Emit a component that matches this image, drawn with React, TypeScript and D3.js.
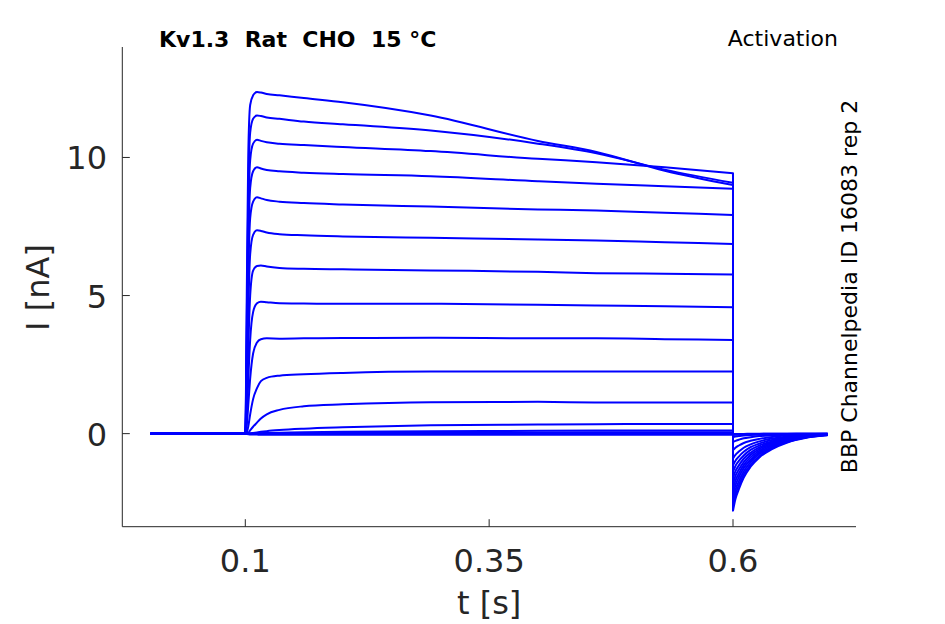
import { useEffect, useRef } from 'react';
import * as d3 from 'd3';

// time samples (s)
const holdT = [0.0027, 0.1];
const pulseT = [0.1, 0.1015, 0.103, 0.105, 0.108, 0.112, 0.116, 0.122, 0.135, 0.16, 0.2, 0.29, 0.4, 0.46, 0.53, 0.6];
const tailT = [0.6, 0.6025, 0.606, 0.611, 0.618, 0.627, 0.64, 0.655, 0.675, 0.697];

// current during the step (nA), one row per sweep
const pulseI = [
  [0, 5.0, 10.0, 11.9, 12.25, 12.37, 12.35, 12.3, 12.25, 12.15, 12.0, 11.52, 10.6, 10.2, 9.52, 9.0],
  [0, 4.0, 8.5, 10.9, 11.4, 11.52, 11.5, 11.45, 11.4, 11.3, 11.2, 10.98, 10.5, 10.15, 9.56, 9.08],
  [0, 3.2, 7.5, 9.9, 10.5, 10.64, 10.6, 10.55, 10.5, 10.45, 10.38, 10.23, 9.95, 9.83, 9.65, 9.43],
  [0, 2.6, 6.5, 8.9, 9.5, 9.65, 9.6, 9.55, 9.5, 9.45, 9.4, 9.32, 9.14, 9.05, 8.96, 8.87],
  [0, 2.0, 5.5, 7.8, 8.4, 8.56, 8.52, 8.46, 8.4, 8.35, 8.3, 8.22, 8.12, 8.08, 8.0, 7.92],
  [0, 1.5, 4.3, 6.5, 7.2, 7.36, 7.34, 7.28, 7.22, 7.18, 7.14, 7.09, 7.03, 6.99, 6.93, 6.87],
  [0, 1.0, 3.0, 5.0, 5.9, 6.07, 6.09, 6.05, 6.0, 5.97, 5.95, 5.91, 5.86, 5.81, 5.79, 5.76],
  [0, 0.6, 1.9, 3.4, 4.4, 4.72, 4.78, 4.76, 4.72, 4.71, 4.7, 4.7, 4.67, 4.64, 4.61, 4.58],
  [0, 0.3, 1.0, 2.0, 2.9, 3.3, 3.42, 3.45, 3.44, 3.45, 3.46, 3.47, 3.45, 3.45, 3.42, 3.39],
  [0, 0.05, 0.25, 0.7, 1.25, 1.65, 1.9, 2.02, 2.1, 2.15, 2.2, 2.25, 2.25, 2.25, 2.25, 2.25],
  [0, 0.01, 0.03, 0.12, 0.25, 0.4, 0.55, 0.7, 0.86, 0.99, 1.06, 1.14, 1.15, 1.13, 1.13, 1.13],
  [0, 0, 0.005, 0.01, 0.025, 0.045, 0.065, 0.09, 0.13, 0.18, 0.23, 0.3, 0.33, 0.34, 0.35, 0.35],
  [0, 0, 0, 0, 0.005, 0.01, 0.015, 0.02, 0.03, 0.05, 0.07, 0.09, 0.1, 0.11, 0.11, 0.11],
  [0, 0, 0, 0, 0, 0.005, 0.01, 0.01, 0.015, 0.02, 0.03, 0.04, 0.045, 0.05, 0.05, 0.05],
  [0, 0, 0, 0, 0, 0, 0, 0, 0, 0, 0, 0, 0, 0, 0, 0],
  [0, -0.01, -0.02, -0.03, -0.03, -0.035, -0.04, -0.04, -0.04, -0.04, -0.04, -0.04, -0.04, -0.04, -0.04, -0.04],
];

// tail current after the step (nA)
const tailI = [
  [-2.79, -2.37, -2.01, -1.59, -1.2, -0.86, -0.56, -0.33, -0.15, -0.06],
  [-2.6, -2.21, -1.87, -1.48, -1.12, -0.81, -0.52, -0.31, -0.14, -0.05],
  [-2.4, -2.04, -1.73, -1.37, -1.03, -0.74, -0.48, -0.29, -0.13, -0.05],
  [-2.2, -1.87, -1.58, -1.25, -0.95, -0.68, -0.44, -0.26, -0.12, -0.04],
  [-2.0, -1.7, -1.44, -1.14, -0.86, -0.62, -0.4, -0.24, -0.11, -0.04],
  [-1.8, -1.53, -1.3, -1.03, -0.77, -0.56, -0.36, -0.22, -0.1, -0.04],
  [-1.6, -1.36, -1.15, -0.91, -0.69, -0.5, -0.32, -0.19, -0.09, -0.03],
  [-1.38, -1.17, -0.99, -0.79, -0.59, -0.43, -0.28, -0.17, -0.08, -0.03],
  [-1.15, -0.98, -0.83, -0.66, -0.49, -0.36, -0.23, -0.14, -0.06, -0.02],
  [-0.9, -0.77, -0.65, -0.51, -0.39, -0.28, -0.18, -0.11, -0.05, -0.02],
  [-0.6, -0.51, -0.43, -0.34, -0.26, -0.19, -0.12, -0.07, -0.03, -0.01],
  [-0.3, -0.26, -0.22, -0.17, -0.13, -0.09, -0.06, -0.04, -0.02, -0.01],
  [-0.12, -0.1, -0.09, -0.07, -0.05, -0.04, -0.02, -0.01, -0.01, 0],
  [-0.05, -0.04, -0.04, -0.03, -0.02, -0.02, -0.01, -0.01, 0, 0],
  [-0.02, -0.02, -0.01, -0.01, -0.01, -0.01, 0, 0, 0, 0],
  [-0.01, -0.01, -0.01, -0.01, 0, 0, 0, 0, 0, 0],
];

const xTicks = [0.1, 0.35, 0.6];
const yTicks = [0, 5, 10];

const font = '"DejaVu Sans", sans-serif';
const axisColor = '#262626';

export default function App() {
  const svgRef = useRef<SVGSVGElement>(null);

  useEffect(() => {
    if (!svgRef.current) return;
    const svg = d3.select(svgRef.current);
    svg.selectAll('*').remove();

    const left = 122.3, right = 856, top = 47, bottom = 526.7;

    const x = d3.scaleLinear().domain([-0.0261, 0.7261]).range([left, right]);
    const y = d3.scaleLinear().domain([-3.37, 14.0]).range([bottom, top]);

    const line = d3.line<[number, number]>()
      .x(d => x(d[0]))
      .y(d => y(d[1]))
      .curve(d3.curveMonotoneX);

    // sweeps
    const g = svg.append('g');
    pulseI.forEach((row, i) => {
      const pre: [number, number][] = holdT.map(t => [t, 0]);
      const step: [number, number][] = pulseT.slice(1).map((t, j) => [t, row[j + 1]]);
      const tail: [number, number][] = tailT.map((t, j) => [t, tailI[i][j]]);
      const d1 = line([...pre, ...step]) || '';
      const d2 = (line(tail) || '').replace(/^M/, 'L');
      g.append('path')
        .attr('d', d1 + d2)
        .attr('fill', 'none')
        .attr('stroke', '#0000ff')
        .attr('stroke-width', 2)
        .attr('stroke-linejoin', 'round');
    });

    // axes
    svg.append('line')
      .attr('x1', left).attr('x2', left).attr('y1', top).attr('y2', bottom)
      .attr('stroke', axisColor).attr('stroke-width', 1);
    svg.append('line')
      .attr('x1', left).attr('x2', right).attr('y1', bottom).attr('y2', bottom)
      .attr('stroke', axisColor).attr('stroke-width', 1);

    xTicks.forEach(t => {
      svg.append('line')
        .attr('x1', x(t)).attr('x2', x(t)).attr('y1', bottom).attr('y2', bottom - 7.5)
        .attr('stroke', axisColor);
      svg.append('text')
        .attr('x', x(t)).attr('y', 572)
        .attr('text-anchor', 'middle')
        .attr('font-family', font).attr('font-size', 32)
        .attr('fill', axisColor)
        .text(String(t));
    });

    yTicks.forEach(t => {
      svg.append('line')
        .attr('x1', left).attr('x2', left + 7.5).attr('y1', y(t)).attr('y2', y(t))
        .attr('stroke', axisColor);
      svg.append('text')
        .attr('x', 107).attr('y', y(t) + 12)
        .attr('text-anchor', 'end')
        .attr('font-family', font).attr('font-size', 32)
        .attr('fill', axisColor)
        .text(String(t));
    });

    svg.append('text')
      .attr('x', x(0.35)).attr('y', 614)
      .attr('text-anchor', 'middle')
      .attr('font-family', font).attr('font-size', 32)
      .attr('fill', axisColor)
      .text('t [s]');

    svg.append('text')
      .attr('transform', 'translate(49,287.5) rotate(-90)')
      .attr('text-anchor', 'middle')
      .attr('font-family', font).attr('font-size', 32)
      .attr('fill', axisColor)
      .text('I [nA]');

    // annotations
    svg.append('text')
      .attr('x', 159).attr('y', 47)
      .attr('font-family', font).attr('font-size', 22).attr('font-weight', 'bold')
      .attr('fill', '#000')
      .style('white-space', 'pre')
      .text('Kv1.3  Rat  CHO  15 °C');

    svg.append('text')
      .attr('x', 838).attr('y', 46)
      .attr('text-anchor', 'end')
      .attr('font-family', font).attr('font-size', 22)
      .attr('fill', '#000')
      .text('Activation');

    svg.append('text')
      .attr('transform', 'translate(857,286.5) rotate(-90)')
      .attr('text-anchor', 'middle')
      .attr('font-family', font).attr('font-size', 22)
      .attr('fill', '#000')
      .text('BBP Channelpedia ID 16083 rep 2');
  }, []);

  return (
    <svg
      ref={svgRef}
      width={945}
      height={624}
      style={{ position: 'absolute', left: 0, top: 0, background: '#fff' }}
    />
  );
}
